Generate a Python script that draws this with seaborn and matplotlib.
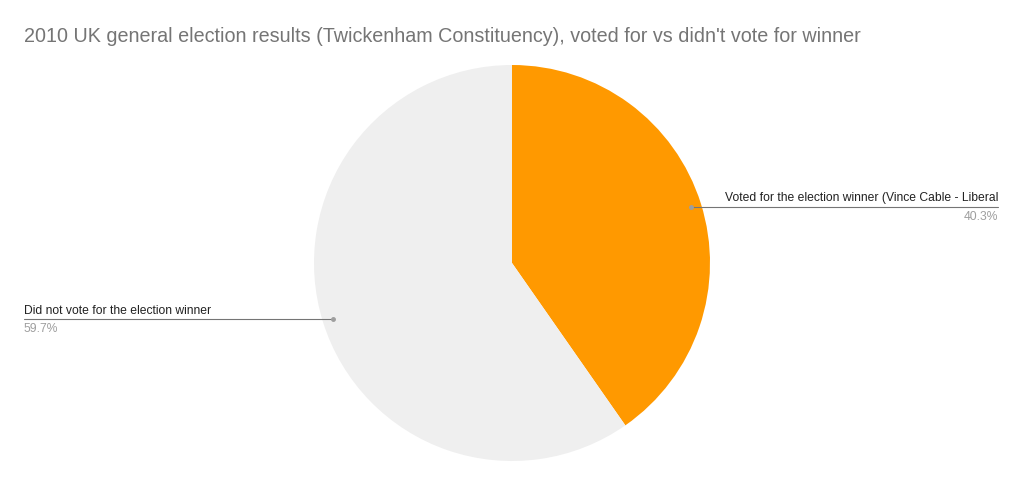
import numpy as np
import matplotlib
matplotlib.use("Agg")
import matplotlib.pyplot as plt
import seaborn as sns

sns.set_theme(style="white")
plt.rcParams["font.family"] = ["Liberation Sans", "DejaVu Sans"]

# data
labels = ["Voted for the election winner (Vince Cable - Liberal", "Did not vote for the election winner"]
shares = [40.3, 59.7]
colors = ["#FF9900", "#EFEFEF"]
title = "2010 UK general election results (Twickenham Constituency), voted for vs didn't vote for winner"

W, H = 1023, 486
fig = plt.figure(figsize=(W / 100, H / 100), dpi=100)
fig.patch.set_facecolor("white")

# pie centre (512, 263) px, radius 198 px
cx, cy, r = 512, 263, 198
ax = fig.add_axes([(cx - r) / W, (H - cy - r) / H, 2 * r / W, 2 * r / H])
ax.pie(shares, colors=colors, startangle=90, counterclock=False, radius=1,
       wedgeprops=dict(linewidth=0))
ax.set_xlim(-1, 1)
ax.set_ylim(-1, 1)
ax.set_aspect("equal")
ax.axis("off")

# leader lines + labels
ends = [(998 - cx) / r, (24 - cx) / r]
start = 90
for lab, val, xend in zip(labels, shares, ends):
    span = val / sum(shares) * 360
    mid = np.deg2rad(start - span / 2)
    start -= span
    x0, y0 = 0.95 * np.cos(mid), 0.95 * np.sin(mid)
    ax.plot([x0, xend], [y0, y0], color="#757575", lw=0.8, clip_on=False)
    ax.plot([x0], [y0], "o", color="#9e9e9e", ms=2.5, clip_on=False)
    ha = "right" if xend > 0 else "left"
    ax.text(xend, y0 + 0.012, lab, ha=ha, va="bottom", fontsize=8.75, color="#222222")
    ax.text(xend, y0 - 0.02, f"{val}%", ha=ha, va="top", fontsize=8.75, color="#9e9e9e")

fig.text(24 / W, 1 - 37 / H, title, ha="left", va="center", fontsize=14.25, color="#757575")

fig.savefig("out.png", dpi=100, facecolor="white")
